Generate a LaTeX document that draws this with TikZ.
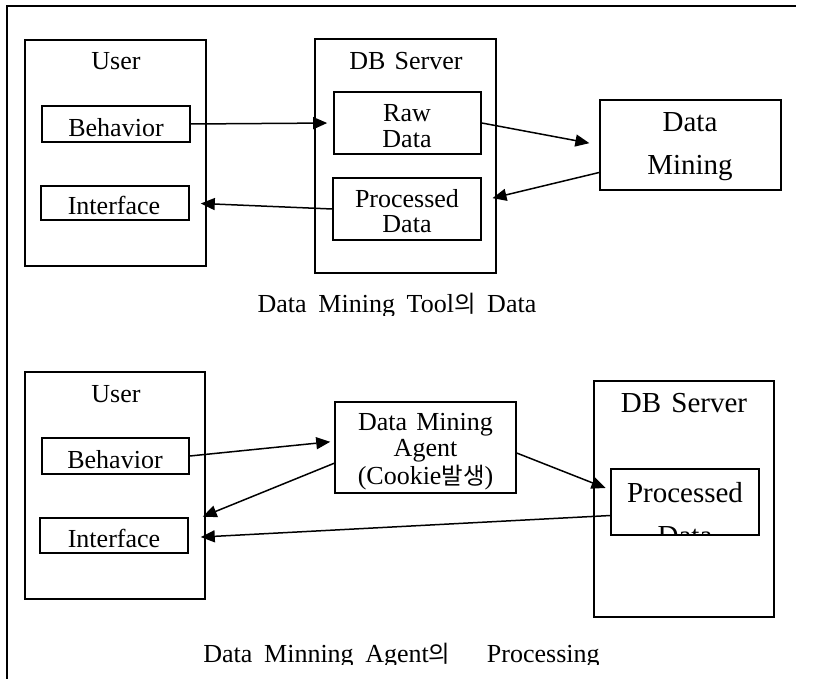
\documentclass[tikz,border=0pt]{standalone}
\usepackage{fontspec}
\setmainfont{Liberation Serif}
\newfontfamily\kr[Scale=0.9]{Noto Sans CJK KR}
\usetikzlibrary{arrows.meta,calc}
\begin{document}
\begin{tikzpicture}[x=0.5pt,y=-0.5pt,
  box/.style={draw,line width=0.8pt,inner sep=0pt,rectangle},
  txt/.style={inner sep=0pt,anchor=base,font=\fontsize{13}{13}\selectfont},
  bigtxt/.style={inner sep=0pt,anchor=base,font=\fontsize{14.5}{14.5}\selectfont},
  arr/.style={line width=0.75pt,-{Triangle[length=7pt,width=6pt]}}]
\useasboundingbox (0,0) rectangle (819,679);
% outer frame (top and left only)
\draw[line width=1pt] (7,679) -- (7,6) -- (796,6);

% ===== Top diagram =====
\node[box,minimum width=90.5pt,minimum height=113pt] (user1) at (115.5,153) {};
\node[box,minimum width=74pt,minimum height=18pt] (beh1) at (116,124) {};
\node[box,minimum width=74pt,minimum height=17pt] (int1) at (115,203) {};
\node[box,minimum width=90.5pt,minimum height=117pt] (db1) at (405.5,156) {};
\node[box,minimum width=73.5pt,minimum height=31pt] (raw) at (407.5,123) {};
\node[box,minimum width=74pt,minimum height=31pt] (proc1) at (407,209) {};
\node[box,minimum width=90.5pt,minimum height=45pt] (dm) at (690.5,145) {};

\node[txt] (user1t) at (116,70) {User};
\node[txt] (db1t) at (406,70) {DB\hspace{0.35em}Server};
\node[txt] (beh1t) at (116,137) {Behavior};
\node[txt] (int1t) at (114,215) {Interface};
\node[txt] (rawt1) at (407,122) {Raw};
\node[txt] (rawt2) at (407,148) {Data};
\node[txt] (proc1t1) at (407,208) {Processed};
\node[txt] (proc1t2) at (407,233) {Data};
\node[bigtxt] (dmt1) at (690,132) {Data};
\node[bigtxt] (dmt2) at (690,175) {Mining};

\begin{scope}
  \clip (200,280) rectangle (600,315);
  \node[txt] (cap1) at (397,313) {Data\hspace{0.45em}Mining\hspace{0.45em}Tool{\kr 의}\hspace{0.45em}Data};
\end{scope}

\draw[arr,shorten >=3pt] (beh1.east) -- (raw.west);
\draw[arr,shorten >=5pt] (raw.east) -- (dm.west);
\draw[arr,shorten >=5.5pt] ($(dm.south west)!0.2!(dm.north west)$) -- ($(proc1.north east)!0.37!(proc1.south east)$);
\draw[arr,shorten >=5.5pt] (proc1.west) -- (int1.east);

% ===== Bottom diagram =====
\node[box,minimum width=90pt,minimum height=113.5pt] (user2) at (115,485.5) {};
\node[box,minimum width=73.5pt,minimum height=18pt] (beh2) at (115.5,456) {};
\node[box,minimum width=74pt,minimum height=17.5pt] (int2) at (114,535.5) {};
\node[box,minimum width=90.5pt,minimum height=45.5pt] (agent) at (425.5,447.5) {};
\node[box,minimum width=90pt,minimum height=118pt] (db2) at (684,499) {};
\node[box,fill=white,minimum width=74pt,minimum height=33pt] (proc2) at (685,502) {};

\node[txt] (user2t) at (116,402) {User};
\node[txt] (beh2t) at (115,468) {Behavior};
\node[txt] (int2t) at (114,547) {Interface};
\node[txt] (agt1) at (425.5,430) {Data\hspace{0.35em}Mining};
\node[txt] (agt2) at (425.5,456) {Agent};
\node[txt] (agt3) at (425.5,484) {(Cookie{\kr 발생})};
\node[bigtxt] (db2t) at (684,412) {DB\hspace{0.35em}Server};
\begin{scope}
  \clip (proc2.south west) rectangle (proc2.north east);
  \node[bigtxt] (proc2t1) at (685,502) {Processed};
  \node[bigtxt] (proc2t2) at (685,545) {Data};
\end{scope}

\begin{scope}
  \clip (150,630) rectangle (650,664);
  \node[txt,anchor=base west] (cap2a) at (203,662) {Data\hspace{0.45em}Minning\hspace{0.45em}Agent{\kr 의}};
  \node[txt,anchor=base east] (cap2b) at (600,662) {Processing};
\end{scope}

\draw[arr,shorten >=2pt] (beh2.east) -- ($(agent.north west)!0.434!(agent.south west)$);
\draw[arr,shorten >=7.5pt] ($(agent.north west)!0.67!(agent.south west)$) -- ($(int2.north east)!0.14!(int2.south east)$);
\draw[arr,shorten >=2.5pt] ($(agent.north east)!0.56!(agent.south east)$) -- ($(proc2.north west)!0.32!(proc2.south west)$);
\draw[arr,shorten >=6pt] ($(proc2.north west)!0.7!(proc2.south west)$) -- ($(int2.north east)!0.56!(int2.south east)$);
\end{tikzpicture}
\end{document}
